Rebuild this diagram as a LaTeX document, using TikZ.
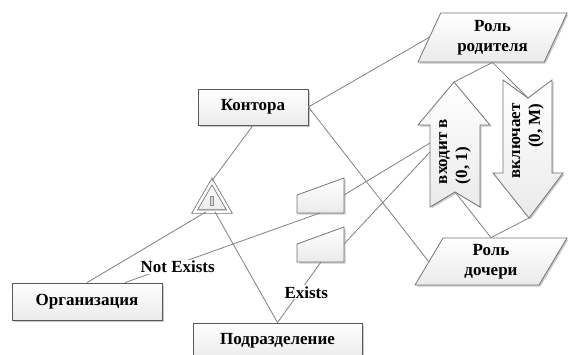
\documentclass[tikz,border=0pt]{standalone}
\usepackage{fontspec}
\setmainfont{Liberation Serif}
\usetikzlibrary{shapes.geometric,shadows}

\begin{document}
\begin{tikzpicture}[
  x=1pt, y=-1pt,
  font=\fontsize{17}{20}\selectfont\bfseries,
  conn/.style={draw=black!50, line width=0.8pt},
  shp/.style={draw=black!55, line width=0.8pt, top color=white, bottom color=black!8},
  shd/.style={drop shadow={shadow xshift=1.5pt, shadow yshift=-1.5pt, fill=black!35, opacity=0.6}},
  ent/.style={shp, shd, draw=black!65, rectangle, minimum height=36pt, inner sep=0pt},
  role/.style={shp, shd, trapezium, trapezium stretches=true, trapezium left angle=66,
    trapezium right angle=114, align=center, inner sep=0pt},
  tri/.style={shp, regular polygon, regular polygon sides=3, minimum size=40pt,
    inner sep=0pt, double=white, double distance=2.5pt},
  lbl/.style={fill=white, inner sep=1pt}
]
\useasboundingbox (0,0) rectangle (568,354);

% entities
\node[ent, minimum width=110pt] (kontora) at (253,107) {Контора};
\node[ent, minimum width=150pt, minimum height=37pt] (org) at (87,301.5) {Организация};
\node[ent, minimum width=169pt] (pod) at (277.5,341) {Подразделение};

% roles
\node[role, minimum width=149pt, minimum height=49pt] (rparent) at (492.5,37.5) {Роль\\родителя};
\node[role, minimum width=152pt, minimum height=47pt] (rchild) at (491,261.5) {Роль\\дочери};

% subtype triangle
\node[tri] (tri) at (212,201.5) {};
\draw[draw=black!45, fill=black!15] (210.5,196) rectangle (213.5,205);

% small blocks
\draw[shp, shd] (297,213) -- (344,213) -- (344,178) -- (297,195) -- cycle;
\draw[shp, shd] (297,262) -- (344,262) -- (344,227) -- (297,244) -- cycle;
\coordinate (t1b) at (320,213);
\coordinate (t1r) at (344,195);
\coordinate (t2b) at (321,262);
\coordinate (t2r) at (344,244);

% block arrows
\draw[shp, shd] (430,207) -- (430,125) -- (418,125) -- (454,82) -- (490,125)
  -- (480,125) -- (480,207) -- (455,192) -- cycle;
\coordinate (uptip) at (454,82);
\coordinate (upnotch) at (455,192);
\coordinate (upin1) at (430,143);
\coordinate (upin2) at (430,152);
\node[rotate=90, align=left] (uptext) at (455,151.5) {входит в\\(0, 1)};

\draw[shp, shd] (503,80) -- (528,98) -- (552,80) -- (552,173) -- (563,173)
  -- (529,218) -- (493,173) -- (503,173) -- cycle;
\coordinate (dnnotch) at (528,98);
\coordinate (dntip) at (529,218);
\node[rotate=90, align=right] (dntext) at (528,141) {включает\\(0, M)};

% connectors
\draw[conn] (kontora.east) -- (rparent.west);
\draw[conn] (kontora.east) -- (rchild.west);
\draw[conn] (kontora.south) -- (tri.north);
\draw[conn] ([xshift=-6pt]tri.south) -- (org.north);
\draw[conn] ([xshift=3pt]tri.south) -- (pod.north);
\draw[conn] ([xshift=38pt]org.north) -- node[lbl, pos=0.27, yshift=-3pt] {Not Exists} (t1b);
\draw[conn] (pod.north) -- node[lbl, pos=0.5, xshift=7pt] {Exists} (t2b);
\draw[conn] (t1r) -- (upin1);
\draw[conn] (t2r) -- (upin2);
\draw[conn] (rparent.south) -- (uptip);
\draw[conn] (rparent.south) -- (dnnotch);
\draw[conn] (upnotch) -- (rchild.north);
\draw[conn] (dntip) -- (rchild.north);
\end{tikzpicture}
\end{document}
